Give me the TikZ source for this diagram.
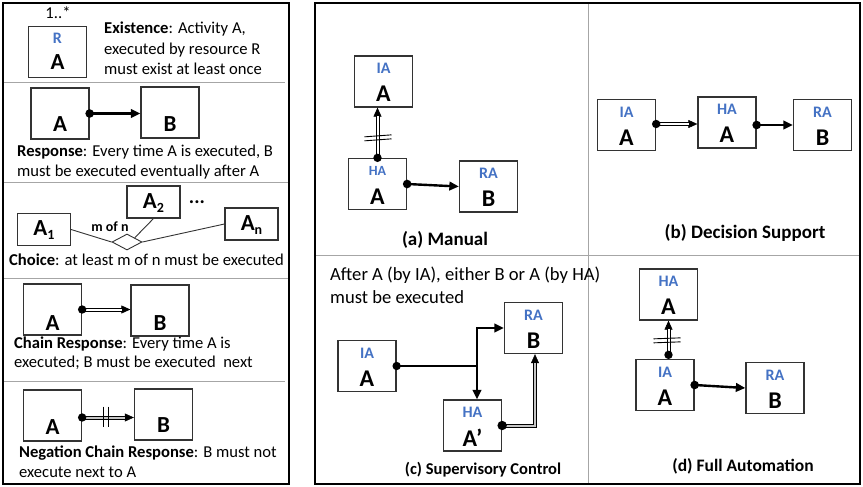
\documentclass[tikz,border=0pt]{standalone}
\usepackage{fontspec}
\setmainfont{Carlito}
\usetikzlibrary{calc,arrows.meta,shapes.geometric}
\definecolor{lblue}{HTML}{4472C4}
\definecolor{boxc}{HTML}{333333}
\newcommand{\actbox}[5]{%
  \node[box] (#1) at (#2,#3) {};
  \node[lab] (#1l) at ($(#1)+(0,-13)$) {#4};
  \node[bigr] (#1t) at ($(#1)+(0,12.5)$) {#5};}
\newcommand{\plainbox}[5]{%
  \node[box] (#1) at (#2,#3) {};
  \node[big] (#1t) at ($(#1)+(0,#4)$) {#5};}
\begin{document}
\begin{tikzpicture}[x=1pt,y=-1pt,
  box/.style={draw=boxc, line width=1.3pt, fill=white, minimum width=58, minimum height=51, inner sep=0},
  sbox/.style={draw=boxc, line width=1.1pt, fill=white, minimum width=53, minimum height=32, inner sep=0},
  lab/.style={inner sep=0, text=lblue, font=\fontsize{16}{18}\selectfont\bfseries},
  big/.style={inner sep=0, font=\fontsize{23}{26}\selectfont\bfseries},
  bigr/.style={inner sep=0, font=\fontsize{24}{27}\selectfont\bfseries},
  txt/.style={anchor=base west, inner sep=0, font=\fontsize{16.6}{19}\selectfont},
  ctxt/.style={anchor=base west, inner sep=0, font=\fontsize{18.6}{21}\selectfont},
  captxt/.style={inner sep=0, font=\fontsize{16.5}{19}\selectfont\bfseries},
  frm/.style={draw=black, line width=2.4pt},
  sepl/.style={draw=gray!70, line width=0.9pt},
  arr/.style={line width=2.4pt, -{Triangle[length=9.5pt,width=8.5pt]}},
  dbl/.style={line width=0.5pt, -{Triangle[length=9pt,width=8pt]},
    postaction={draw, arrows=-, line width=1pt, double=white, double distance=2pt, shorten >=8.5pt}},
  dblg/.style={line width=0.5pt, -{Triangle[length=9pt,width=8pt]},
    postaction={draw, arrows=-, line width=1pt, double=gray!45, double distance=2pt, shorten >=8.5pt}},
  hashl/.style={line width=0.9pt},
  thinl/.style={line width=0.9pt, draw=boxc}]
\useasboundingbox (0,0) rectangle (863,487);

% frames and separators
\draw[frm] (3,3) rectangle (289,484);
\draw[frm] (315,3) rectangle (860,484);
\draw[sepl] (4,82) -- (285,82);
\draw[sepl] (4,182) -- (288,182);
\draw[sepl] (4,278) -- (288,278);
\draw[sepl] (4,381) -- (285,381);
\draw[sepl] (588,4) -- (588,483);
\draw[sepl] (316,255) -- (859,255);

% ---------- Existence
\node[inner sep=0, font=\fontsize{16.6}{19}\selectfont] (mult) at (58,13) {1..*};
\node[box] (ex) at (57.5,52) {};
\node[lab] (exl) at ($(ex)+(0,-14)$) {R};
\node[big] (ext) at ($(ex)+(0,10)$) {A};
\node[txt] (ex1) at (104,34) {\textbf{Existence}: Activity A,};
\node[txt] (ex2) at (104,54.5) {executed by resource R};
\node[txt] (ex3) at (104,75) {must exist at least once};

% ---------- Response
\plainbox{rA}{60}{113.5}{10.5}{A}
\plainbox{rB}{170}{112.5}{11.5}{B}
\draw[arr] (rA.east) -- (rA.east -| rB.west);
\fill (rA.east) circle (4.3pt);
\node[txt] (re1) at (17,157) {\textbf{Response}: Every time A is executed, B};
\node[txt] (re2) at (17,176.5) {must be executed eventually after A};

% ---------- Choice
\node[sbox] (cA1) at (44,229.5) {};
\node[sbox] (cA2) at (153.5,202) {};
\node[sbox] (cAn) at (251.5,224) {};
\node[big] (cA1t) at ($(cA1)+(0,1)$) {A\raisebox{-4pt}{\fontsize{14}{14}\selectfont 1}};
\node[big] (cA2t) at ($(cA2)+(0,1)$) {A\raisebox{-4pt}{\fontsize{14}{14}\selectfont 2}};
\node[big] (cAnt) at ($(cAn)+(0,1)$) {A\raisebox{-4pt}{\fontsize{14}{14}\selectfont n}};
\node[draw=boxc, line width=0.9pt, fill=white, shape=diamond, minimum width=30, minimum height=16, inner sep=0] (dia) at (127,242) {};
\draw[thinl] (cA1.east) -- (dia.west);
\draw[thinl] (cA2.south) -- (dia.north east);
\draw[thinl] (cAn.west) -- (dia.east);
\node[inner sep=0, font=\fontsize{14}{16}\selectfont\bfseries] (mofn) at (110,227) {m of n};
\node[inner sep=0, font=\fontsize{20}{22}\selectfont\bfseries] (dots) at (197,202) {...};
\node[txt] (ch0) at (9,265) {\textbf{Choice}: at least m of n must be executed};

% ---------- Chain Response
\plainbox{chA}{52.5}{309.5}{13.5}{A}
\plainbox{chB}{160}{310.5}{12.5}{B}
\draw[dbl] (chA.east) -- (chA.east -| chB.west);
\fill (chA.east) circle (4.2pt);
\node[txt] (cr1) at (14,348) {\textbf{Chain Response}: Every time A is};
\node[txt] (cr2) at (14,367.5) {executed; B must be executed\ \ next};

% ---------- Negation Chain Response
\plainbox{nA}{52.5}{415.5}{11.5}{A}
\plainbox{nB}{163.5}{414.5}{10.5}{B}
\draw[dblg] ($(nA.east)+(0,2)$) -- ($(nA.east -| nB.west)+(0,2)$);
\fill ($(nA.east)+(0,2)$) circle (4.2pt);
\draw[hashl] ($(nA.east)+(21,-9)$) -- ($(nA.east)+(21,11.5)$);
\draw[hashl] ($(nA.east)+(26,-9)$) -- ($(nA.east)+(26,11.5)$);
\node[txt] (nc1) at (19,457) {\textbf{Negation Chain Response}: B must not};
\node[txt] (nc2) at (19,477) {execute next to A};

% ---------- (a) Manual
\actbox{aIA}{383.5}{81.5}{IA}{A}
\actbox{aHA}{377.5}{184}{\fontsize{14}{16}\selectfont HA}{A}
\actbox{aRA}{488.5}{186.5}{RA}{B}
\draw[dbl] (aHA.north) -- (aHA.north |- aIA.south);
\fill (aHA.north) circle (4.2pt);
\draw[hashl] ($(aHA.north)+(-13,-17)$) -- ($(aHA.north)+(14,-19)$);
\draw[hashl] ($(aHA.north)+(-13,-21)$) -- ($(aHA.north)+(14,-23)$);
\draw[arr] (aHA.east) -- (aRA.west);
\fill (aHA.east) circle (4.3pt);
\node[captxt, font=\fontsize{19}{22}\selectfont\bfseries] (capa) at (445,240) {(a) Manual};

% ---------- (b) Decision Support
\actbox{bIA}{626.5}{125}{IA}{A}
\actbox{bHA}{727}{122.5}{HA}{A}
\actbox{bRA}{822.5}{125}{RA}{B}
\draw[dbl] ($(bIA.east)+(0,-1)$) -- ($(bIA.east -| bHA.west)+(0,-1)$);
\fill ($(bIA.east)+(0,-1)$) circle (4.2pt);
\draw[arr] (bRA.west -| bHA.east) -- (bRA.west);
\fill (bRA.west -| bHA.east) circle (4.3pt);
\node[captxt, font=\fontsize{19}{22}\selectfont\bfseries] (capb) at (745,233) {(b) Decision Support};

% ---------- (c) Supervisory Control
\node[ctxt] (sc1) at (330,280.5) {After A (by IA), either B or A (by HA)};
\node[ctxt] (sc2) at (330,303.5) {must be executed};
\actbox{cIA}{367}{366}{IA}{A}
\actbox{cHA}{472.5}{425.5}{HA}{A’}
\actbox{cRA}{533.5}{328}{RA}{B}
\coordinate (jn) at ($(cIA.east -| cHA.north)+(4.5,0)$);
\draw[line width=2.2pt] (cIA.east) -- (jn);
\draw[arr, line width=2.2pt] (jn) -- (jn |- cHA.north);
\draw[arr, line width=2.2pt] (jn) |- (cRA.west);
\fill (cIA.east) circle (4.2pt);
\draw[dblg] (cHA.east) -| ($(cRA.south)+(1.5,0)$);
\fill (cHA.east) circle (4.7pt);
\node[captxt] (capc) at (483,470) {(c) Supervisory Control};

% ---------- (d) Full Automation
\actbox{dHA}{668.5}{294.5}{HA}{A}
\actbox{dIA}{665}{385}{IA}{A}
\actbox{dRA}{775}{388}{RA}{B}
\coordinate (dst) at (dHA.south |- dIA.north);
\draw[dbl] ($(dst)+(0,-4)$) -- (dHA.south);
\fill ($(dst)+(0,-4)$) circle (4.2pt);
\draw[hashl] ($(dst)+(-15,-16)$) -- ($(dst)+(12,-17)$);
\draw[hashl] ($(dst)+(-15,-20)$) -- ($(dst)+(12,-21)$);
\draw[arr] (dIA.east) -- (dRA.west);
\fill (dIA.east) circle (4.3pt);
\node[captxt, font=\fontsize{17.5}{20}\selectfont\bfseries] (capd) at (743,466) {(d) Full Automation};
\end{tikzpicture}
\end{document}
